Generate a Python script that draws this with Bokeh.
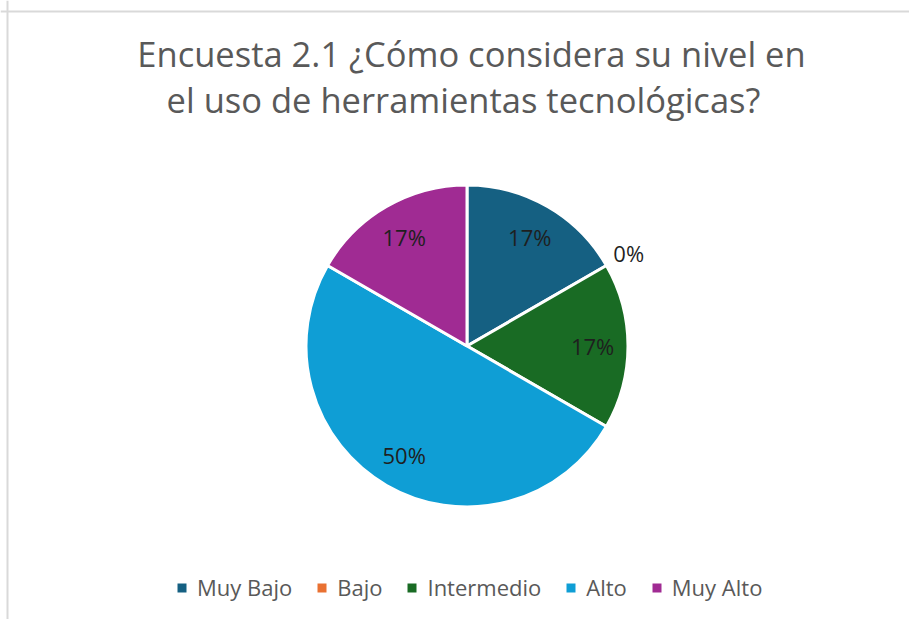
import numpy as np
from bokeh.plotting import figure
from bokeh.models import ColumnDataSource, Range1d, Legend, LegendItem, Span
from bokeh.core.properties import value
from bokeh.embed import file_html
from bokeh.resources import INLINE

# ---- data ----
categories = ["Muy Bajo", "Bajo", "Intermedio", "Alto", "Muy Alto"]
counts = [1, 0, 1, 3, 1]
colors = ["#156082", "#E97132", "#196B24", "#0F9ED5", "#A02B93"]
title_lines = ["Encuesta 2.1 ¿Cómo considera su nivel en",
               "el uso de herramientas tecnológicas?"]

# ---- layout (1 data unit = 1 screen pixel; y measured upward from page bottom) ----
W, H = 909, 619
PAGE_H = 619
FONT = "Open Sans"


def yy(page_y):
    return PAGE_H - page_y


CX, CY, R = 466.5, yy(345.5), 161

p = figure(width=W, height=H,
           x_range=Range1d(0, W), y_range=Range1d(PAGE_H - H, PAGE_H),
           output_backend="svg", toolbar_location=None,
           x_axis_location=None, y_axis_location=None, min_border=0)
p.grid.visible = False
p.outline_line_color = None
p.background_fill_color = "white"
p.border_fill_color = "white"

# chart-area border (top and left visible in reference)
p.add_layout(Span(location=yy(11), dimension="width", line_color="#d9d9d9", line_width=2))
p.add_layout(Span(location=7, dimension="height", line_color="#d9d9d9", line_width=2))

# ---- pie ----
vals = np.array(counts, dtype=float)
frac = vals / vals.sum()
cum = np.concatenate([[0.0], np.cumsum(frac)])
start = np.pi / 2 - 2 * np.pi * cum[:-1]
end = np.pi / 2 - 2 * np.pi * cum[1:]
radius = np.where(vals > 0, R, 0.0)

src = ColumnDataSource(dict(cat=categories, start=start, end=end, color=colors, r=radius))
wr = p.wedge(x=CX, y=CY, radius="r", start_angle="start", end_angle="end",
             direction="clock", fill_color="color", line_color="white",
             line_width=3, source=src)

# ---- data labels ----
mid = (start + end) / 2
rl = np.where(frac > 0, 0.78 * R, 1.16 * R)
lx = CX + rl * np.cos(mid)
ly = CY + rl * np.sin(mid)
pct = [f"{round(f * 100)}%" for f in frac]
p.text(x=lx, y=ly, text=pct, text_align="center", text_baseline="middle",
       text_font=value(FONT), text_font_size="22px", text_color="#1f1f1f")

# ---- title ----
p.text(x=[471, 463], y=[yy(53), yy(98.5)], text=title_lines,
       text_align="center", text_baseline="alphabetic",
       text_font=value(FONT), text_font_size="34.5px", text_color="#595959")

# ---- legend ----
items = [LegendItem(label=c, renderers=[wr], index=i) for i, c in enumerate(categories)]
legend = Legend(items=items, orientation="horizontal", location=(174, 17),
                glyph_width=15, glyph_height=15, label_standoff=8, spacing=22,
                padding=0, margin=0, border_line_color=None,
                background_fill_alpha=0,
                label_text_font=FONT, label_text_font_size="22px",
                label_text_color="#595959")
p.add_layout(legend)

open("out.html", "w").write(file_html(p, INLINE))
